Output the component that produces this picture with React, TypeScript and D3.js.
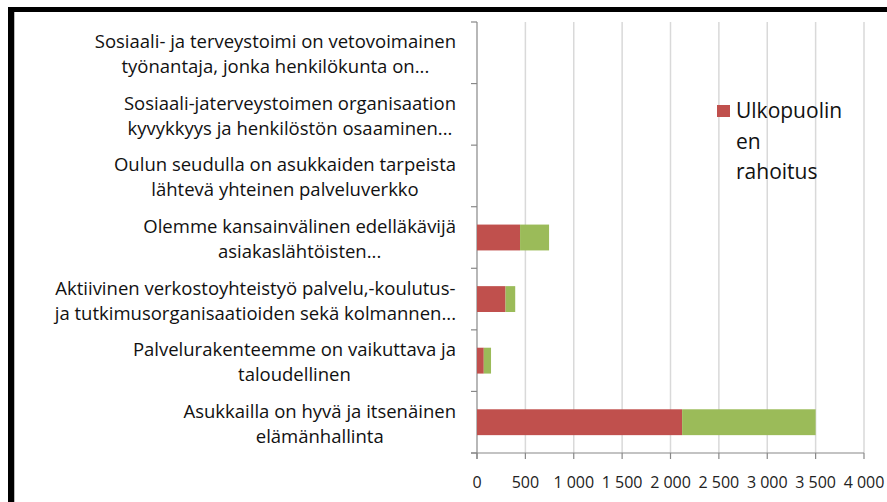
import React, { useEffect, useRef } from 'react';
import * as d3 from 'd3';

const categories: string[][] = [
  ['Sosiaali- ja terveystoimi on vetovoimainen', 'työnantaja, jonka henkilökunta on...'],
  ['Sosiaali-jaterveystoimen organisaation', 'kyvykkyys ja henkilöstön osaaminen...'],
  ['Oulun seudulla on asukkaiden tarpeista', 'lähtevä yhteinen palveluverkko'],
  ['Olemme kansainvälinen edelläkävijä', 'asiakaslähtöisten...'],
  ['Aktiivinen verkostoyhteistyö palvelu,-koulutus-', 'ja tutkimusorganisaatioiden sekä kolmannen...'],
  ['Palvelurakenteemme on vaikuttava ja', 'taloudellinen'],
  ['Asukkailla on hyvä ja itsenäinen', 'elämänhallinta'],
];
const ulkopuolinen = [0, 0, 0, 445, 295, 70, 2120];
const oma = [0, 0, 0, 300, 100, 75, 1380];
const xTicks = [0, 500, 1000, 1500, 2000, 2500, 3000, 3500, 4000];
const legendLines = ['Ulkopuolin', 'en', 'rahoitus'];

const RED = '#C0504D';
const GREEN = '#9BBB59';
const FONT = '"Open Sans", Lato, sans-serif';

export default function App() {
  const ref = useRef<SVGSVGElement | null>(null);

  useEffect(() => {
    if (!ref.current) return;
    const W = 887, H = 502;
    const M = { top: 22, left: 477, right: 887 - 864, bottom: 502 - 453 };
    const innerW = W - M.left - M.right;
    const innerH = H - M.top - M.bottom;
    const svg = d3.select(ref.current);
    svg.selectAll('*').remove();

    svg.append('rect').attr('width', W).attr('height', H).attr('fill', '#fff');
    // frame
    svg.append('rect').attr('x', 8).attr('y', 7).attr('width', W - 8).attr('height', 5).attr('fill', '#000');
    svg.append('rect').attr('x', 8).attr('y', 7).attr('width', 6).attr('height', H - 7).attr('fill', '#000');
    svg.append('rect').attr('x', 14).attr('y', 12).attr('width', 1).attr('height', H - 12).attr('fill', '#bbb');

    const g = svg.append('g').attr('transform', `translate(${M.left},${M.top})`);
    const x = d3.scaleLinear().domain([0, 4000]).range([0, innerW]);
    const y = d3.scaleBand<number>().domain(d3.range(categories.length)).range([0, innerH]).paddingInner(0.58).paddingOuter(0.29);
    const step = y.step();

    // gridlines
    g.selectAll('line.grid').data(xTicks.slice(1)).enter().append('line')
      .attr('x1', d => x(d)).attr('x2', d => x(d)).attr('y1', 0).attr('y2', innerH)
      .attr('stroke', '#d9d9d9').attr('stroke-width', 1.5);

    // x-axis
    g.append('line').attr('x1', -6).attr('x2', innerW).attr('y1', innerH).attr('y2', innerH).attr('stroke', '#888').attr('stroke-width', 1.2);
    g.selectAll('line.xt').data(xTicks).enter().append('line')
      .attr('x1', d => x(d)).attr('x2', d => x(d)).attr('y1', innerH).attr('y2', innerH + 6)
      .attr('stroke', '#888').attr('stroke-width', 1.2);
    const fmt = (v: number) => d3.format(',')(v).replace(',', ' ');
    g.selectAll('text.xl').data(xTicks).enter().append('text')
      .attr('x', d => x(d)).attr('y', innerH + 35)
      .attr('text-anchor', 'middle').attr('font-family', FONT).attr('font-size', 16).attr('fill', '#222')
      .text(d => fmt(d));

    // y-axis
    g.append('line').attr('x1', 0).attr('x2', 0).attr('y1', 0).attr('y2', innerH + 6).attr('stroke', '#888').attr('stroke-width', 1.2);
    g.selectAll('line.yt').data(d3.range(categories.length + 1)).enter().append('line')
      .attr('x1', -6).attr('x2', 0).attr('y1', d => d * step).attr('y2', d => d * step)
      .attr('stroke', '#888').attr('stroke-width', 1.2);

    // bars
    g.selectAll('rect.r').data(ulkopuolinen).enter().append('rect')
      .attr('x', 0).attr('y', (_, i) => y(i)!).attr('width', d => x(d)).attr('height', y.bandwidth()).attr('fill', RED);
    g.selectAll('rect.gr').data(oma).enter().append('rect')
      .attr('x', (_, i) => x(ulkopuolinen[i])).attr('y', (_, i) => y(i)!)
      .attr('width', d => x(d)).attr('height', y.bandwidth()).attr('fill', GREEN);

    // category labels: block right-aligned, lines centred within block
    categories.forEach((lines, i) => {
      const cy = y(i)! + y.bandwidth() / 2;
      const texts = lines.map((l, j) => g.append('text')
        .attr('y', cy + (j - (lines.length - 1) / 2) * 25 + 8)
        .attr('text-anchor', 'middle').attr('font-family', FONT).attr('font-size', 18.5).attr('fill', '#111')
        .text(l));
      const maxW = d3.max(texts, t => (t.node() as SVGTextElement).getComputedTextLength()) ?? 0;
      texts.forEach(t => t.attr('x', -21 - maxW / 2));
    });

    // legend
    svg.append('rect').attr('x', 717).attr('y', 105).attr('width', 13).attr('height', 12).attr('fill', RED);
    legendLines.forEach((l, j) => {
      svg.append('text').attr('x', 736).attr('y', 118 + j * 30.5)
        .attr('font-family', FONT).attr('font-size', 21).attr('fill', '#111').text(l);
    });
  }, []);

  return (
    <svg ref={ref} width={887} height={502} style={{ position: 'absolute', left: 0, top: 0 }} />
  );
}
